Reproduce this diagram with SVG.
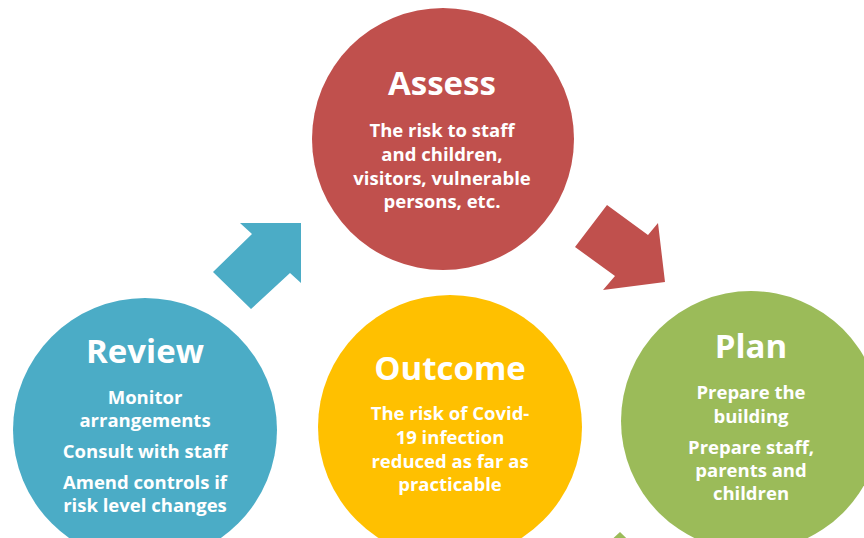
<svg xmlns="http://www.w3.org/2000/svg" width="864" height="538" viewBox="0 0 864 538">
<style>
.title{font-family:"Open Sans","Liberation Sans",sans-serif;font-weight:700;font-size:33px;fill:#fff;text-anchor:middle}
.body{font-family:"Open Sans","Liberation Sans",sans-serif;font-weight:700;font-size:18.5px;fill:#fff;text-anchor:middle}
</style>
<rect width="864" height="538" fill="#fff"/>
<g id="connectors">
<polygon fill="#4BACC6" points="301,223 240,223 252,234 213,272 251,309 290,273 301,283"/>
<polygon fill="#C0504D" points="607,205 648,235 658,223 665,282 603,290 615,276 575,247"/>
<polygon fill="#9BBB59" points="570,618 631,618 619,607 658,569 620,532 581,568 570,558"/>
</g>
<g id="assess">
<circle cx="443" cy="139" r="131" fill="#C0504D"/>
<text class="title" x="442" y="95">Assess</text>
<text class="body" x="442" y="137">The risk to staff</text>
<text class="body" x="442" y="161">and children,</text>
<text class="body" x="442" y="185">visitors, vulnerable</text>
<text class="body" x="442" y="208">persons, etc.</text>
</g>
<g id="review">
<circle cx="145" cy="430" r="132" fill="#4BACC6"/>
<text class="title" x="145" y="363">Review</text>
<text class="body" x="145" y="404">Monitor</text>
<text class="body" x="145" y="427">arrangements</text>
<text class="body" x="145" y="458">Consult with staff</text>
<text class="body" x="145" y="489">Amend controls if</text>
<text class="body" x="145" y="512">risk level changes</text>
</g>
<g id="outcome">
<circle cx="450" cy="427" r="132" fill="#FFC000"/>
<text class="title" x="450" y="380">Outcome</text>
<text class="body" x="450" y="420">The risk of Covid-</text>
<text class="body" x="450" y="444">19 infection</text>
<text class="body" x="450" y="468">reduced as far as</text>
<text class="body" x="450" y="491">practicable</text>
</g>
<g id="plan">
<circle cx="751" cy="421" r="130" fill="#9BBB59"/>
<text class="title" x="751" y="358">Plan</text>
<text class="body" x="751" y="399">Prepare the</text>
<text class="body" x="751" y="423">building</text>
<text class="body" x="751" y="454">Prepare staff,</text>
<text class="body" x="751" y="477">parents and</text>
<text class="body" x="751" y="500">children</text>
</g>
</svg>
